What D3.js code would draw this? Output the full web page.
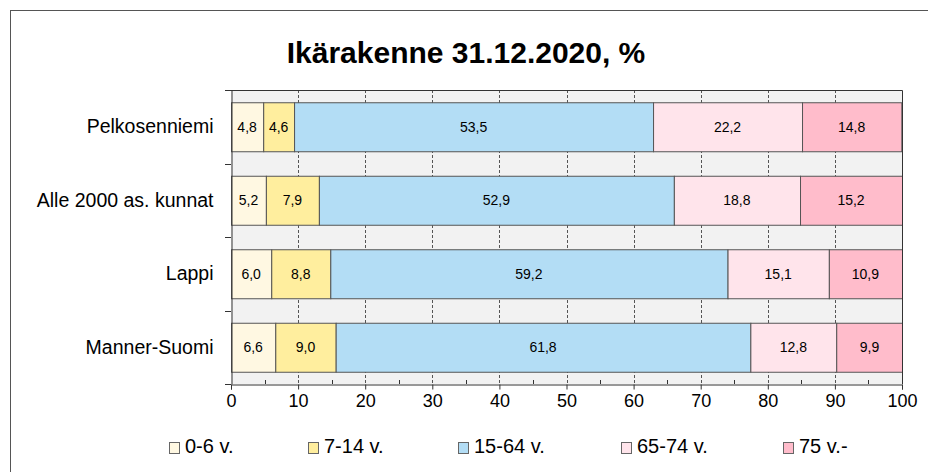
<!DOCTYPE html>
<html>
<head>
<meta charset="utf-8">
<script src="https://cdn.jsdelivr.net/npm/d3@7"></script>
<style>
  body { margin: 0; background: #fff; }
  text { font-family: "Liberation Sans", Arial, sans-serif; fill: #000; }
</style>
</head>
<body>
<div id="chart"></div>
<script>
const categories = ["Pelkosenniemi", "Alle 2000 as. kunnat", "Lappi", "Manner-Suomi"];
const groups = ["0-6 v.", "7-14 v.", "15-64 v.", "65-74 v.", "75 v.-"];
const colors = ["#fff8e2", "#ffee9e", "#b3ddf5", "#ffe4eb", "#ffbccb"];
const age0_6 = [4.8, 5.2, 6.0, 6.6];
const age7_14 = [4.6, 7.9, 8.8, 9.0];
const age15_64 = [53.5, 52.9, 59.2, 61.8];
const age65_74 = [22.2, 18.8, 15.1, 12.8];
const age75 = [14.8, 15.2, 10.9, 9.9];
const xTicks = [0, 10, 20, 30, 40, 50, 60, 70, 80, 90, 100];

const width = 928, height = 472;
const margin = { top: 90, right: 26, bottom: 88, left: 231 };

const svg = d3.select("#chart").append("svg")
  .attr("width", width).attr("height", height);

// outer frame (right and bottom edges fall outside the picture)
svg.append("rect")
  .attr("x", 10.5).attr("y", 10.5)
  .attr("width", 1000).attr("height", 1000)
  .attr("fill", "none").attr("stroke", "#555");

svg.append("text")
  .attr("x", 466).attr("y", 63)
  .attr("text-anchor", "middle")
  .style("font-size", "30px").style("font-weight", "bold")
  .text("Ikärakenne 31.12.2020, %");

const x = d3.scaleLinear().domain([0, 100]).range([margin.left, width - margin.right]);
const y = d3.scaleBand().domain(categories)
  .range([margin.top, height - margin.bottom])
  .paddingInner(1 / 3).paddingOuter(1 / 6);

// rows -> stacked
const rows = categories.map((c, i) => ({
  cat: c,
  [groups[0]]: age0_6[i], [groups[1]]: age7_14[i], [groups[2]]: age15_64[i],
  [groups[3]]: age65_74[i], [groups[4]]: age75[i]
}));
const series = d3.stack().keys(groups)(rows);

const fmt = d3.formatLocale({ decimal: ",", thousands: " ", grouping: [3], currency: ["", "€"] }).format(".1f");

// plot background
svg.append("rect")
  .attr("x", x(0)).attr("y", margin.top)
  .attr("width", x(100) - x(0)).attr("height", height - margin.bottom - margin.top)
  .attr("fill", "#f2f2f2");

// dashed grid
svg.append("g").selectAll("line")
  .data(xTicks.slice(1, -1)).join("line")
  .attr("x1", d => Math.round(x(d)) + 0.5).attr("x2", d => Math.round(x(d)) + 0.5)
  .attr("y1", margin.top).attr("y2", height - margin.bottom)
  .attr("stroke", "#555").attr("stroke-dasharray", "3,2");

svg.append("defs").append("clipPath").attr("id", "plotclip")
  .append("rect")
  .attr("x", x(0)).attr("y", margin.top)
  .attr("width", x(100) - x(0)).attr("height", height - margin.bottom - margin.top);

const layer = svg.append("g").attr("clip-path", "url(#plotclip)")
  .selectAll("g").data(series).join("g")
  .attr("fill", (d, i) => colors[i]);

layer.selectAll("rect").data(d => d).join("rect")
  .attr("x", d => x(d[0]) + 0.5)
  .attr("y", d => y(d.data.cat) + 0.5)
  .attr("width", d => x(d[1]) - x(d[0]))
  .attr("height", y.bandwidth())
  .attr("stroke", "#555").attr("stroke-width", 1);

svg.append("g").selectAll("g").data(series).join("g")
  .selectAll("text").data(d => d).join("text")
  .attr("x", d => (x(d[0]) + x(d[1])) / 2)
  .attr("y", d => y(d.data.cat) + y.bandwidth() / 2 + 5)
  .attr("text-anchor", "middle")
  .style("font-size", "14px")
  .text(d => fmt(d[1] - d[0]));

// plot border top / right
svg.append("path")
  .attr("d", `M${x(0)},${margin.top + 0.5}H${x(100) + 0.5}V${height - margin.bottom}`)
  .attr("fill", "none").attr("stroke", "#333");

// x axis
const xAxis = svg.append("g")
  .attr("transform", `translate(0,${height - margin.bottom + 0.5})`)
  .call(d3.axisBottom(x).tickValues(xTicks).tickSize(5).tickPadding(5).tickFormat(d3.format("d")));
xAxis.select(".domain").attr("stroke", "#333");
xAxis.selectAll(".tick line").attr("stroke", "#333");
xAxis.selectAll("text").style("font-size", "18px").attr("fill", "#000");

// minor ticks pointing inward
svg.append("g").selectAll("line")
  .data(d3.range(5, 100, 10)).join("line")
  .attr("x1", d => Math.round(x(d)) + 0.5).attr("x2", d => Math.round(x(d)) + 0.5)
  .attr("y1", height - margin.bottom - 4).attr("y2", height - margin.bottom)
  .attr("stroke", "#333");

// y axis: labels at band centres, ticks at band boundaries
const yAxis = svg.append("g")
  .attr("transform", `translate(${x(0) + 0.5},0)`)
  .call(d3.axisLeft(y).tickSize(0).tickPadding(18));
yAxis.select(".domain").attr("stroke", "#333");
yAxis.selectAll("text").style("font-size", "19.5px").attr("fill", "#000");

const bounds = [margin.top].concat(categories.map(c => y(c) + y.bandwidth() + y.step() * y.paddingInner() / 2));
svg.append("g").selectAll("line")
  .data(bounds).join("line")
  .attr("x1", x(0) - 6).attr("x2", x(0))
  .attr("y1", d => Math.round(d) + 0.5).attr("y2", d => Math.round(d) + 0.5)
  .attr("stroke", "#333");

// legend
const legendX = [169, 308, 458, 621, 783];
const legend = svg.append("g").attr("transform", "translate(0,442)");
groups.forEach((g, i) => {
  const item = legend.append("g").attr("transform", `translate(${legendX[i]},0)`);
  item.append("rect")
    .attr("x", 0.5).attr("y", 0.5).attr("width", 10).attr("height", 11)
    .attr("fill", colors[i]).attr("stroke", "#666");
  item.append("text")
    .attr("x", 16).attr("y", 11)
    .style("font-size", "20px")
    .text(g);
});
</script>
</body>
</html>
